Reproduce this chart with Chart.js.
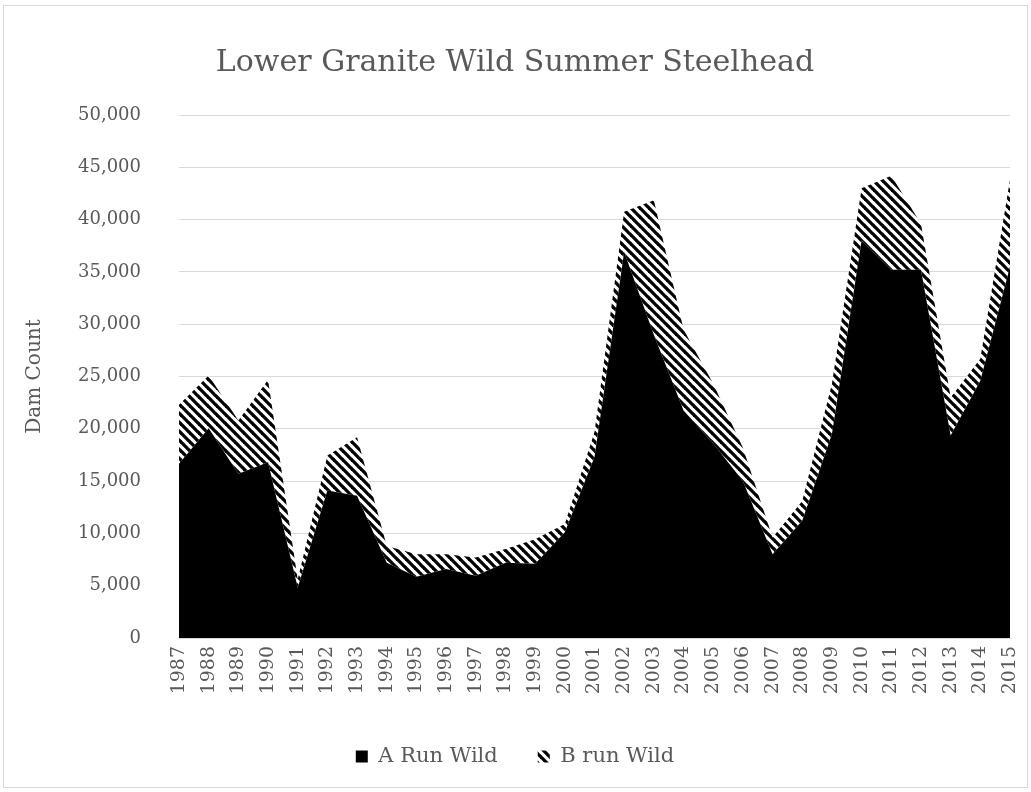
<!DOCTYPE html>
<html>
<head>
<meta charset="utf-8">
<script src="https://cdn.jsdelivr.net/npm/chart.js@4"></script>
<style>
  body { margin: 0; background: #fff; }
  #wrap { position: relative; width: 1031px; height: 792px; }
  #frame { position: absolute; left: 3px; top: 5px; width: 1023px; height: 781px; border: 1px solid #d9d9d9; pointer-events: none; }
</style>
</head>
<body>
<div id="wrap">
  <canvas id="steelheadChart" width="1031" height="792"></canvas>
  <div id="frame"></div>
</div>
<script>
// Dam counts
const years = ['1987', '1988', '1989', '1990', '1991', '1992', '1993', '1994', '1995', '1996',
    '1997', '1998', '1999', '2000', '2001', '2002', '2003', '2004', '2005', '2006',
    '2007', '2008', '2009', '2010', '2011', '2012', '2013', '2014', '2015'];
const aRunWild = [16650, 20050, 15700, 16800, 4800, 14100, 13600, 7200, 5850, 6600,
    5950, 7200, 7100, 10100, 17300, 36900, 29000, 21750, 18600, 15000,
    8000, 11200, 19500, 38000, 35200, 35200, 19350, 24600, 35500];
const bRunWild = [5650, 5050, 5100, 7900, 800, 3350, 5600, 1600, 2150, 1400,
    1750, 1300, 2350, 800, 2400, 3850, 12850, 7750, 5700, 3200,
    1600, 1900, 4800, 5000, 9000, 4400, 3650, 2100, 8300];

document.addEventListener('DOMContentLoaded', () => {
    const grey = '#595959';
    const serif = '"DejaVu Serif", serif';

    // diagonal black/white stripes for the B run series
    const tile = document.createElement('canvas');
    const s = 9;
    tile.width = s;
    tile.height = s;
    const tc = tile.getContext('2d');
    tc.fillStyle = '#fff';
    tc.fillRect(0, 0, s, s);
    tc.strokeStyle = '#000';
    tc.lineWidth = 3.3;
    for (let k = -1; k <= 1; k++) {
        tc.beginPath();
        tc.moveTo(k * s - 1, -1);
        tc.lineTo(k * s + s + 1, s + 1);
        tc.stroke();
    }
    const stripes = tc.createPattern(tile, 'repeat');

    const config = {
        type: 'line',
        data: {
            labels: years,
            datasets: [{
                label: 'A Run Wild',
                data: aRunWild,
                backgroundColor: '#000',
                borderWidth: 0,
                pointRadius: 0,
                fill: 'origin'
            }, {
                label: 'B run Wild',
                data: bRunWild,
                backgroundColor: stripes,
                borderWidth: 0,
                pointRadius: 0,
                fill: '-1'
            }]
        },
        options: {
            responsive: false,
            animation: false,
            layout: { padding: { left: 20, right: 21, top: 0, bottom: 15 } },
            plugins: {
                title: {
                    display: true,
                    text: 'Lower Granite Wild Summer Steelhead',
                    color: grey,
                    font: { family: serif, size: 30, weight: 'normal' },
                    padding: { top: 45, bottom: 34 }
                },
                legend: {
                    position: 'bottom',
                    labels: {
                        color: grey,
                        font: { family: serif, size: 21 },
                        boxWidth: 12,
                        boxHeight: 12,
                        padding: 40
                    }
                },
                tooltip: { enabled: false }
            },
            scales: {
                x: {
                    stacked: true,
                    grid: { display: false, drawTicks: false },
                    border: { display: true, color: '#d9d9d9' },
                    ticks: {
                        color: grey,
                        font: { family: serif, size: 19 },
                        minRotation: 90,
                        maxRotation: 90,
                        autoSkip: false,
                        padding: 8
                    },
                    afterFit: (scale) => {
                        scale.height = 68;
                        scale.paddingLeft = 0;
                        scale.paddingRight = 0;
                    }
                },
                y: {
                    stacked: true,
                    min: 0,
                    max: 50000,
                    grid: { color: '#d9d9d9', drawTicks: false },
                    border: { display: false },
                    ticks: {
                        stepSize: 5000,
                        color: grey,
                        font: { family: serif, size: 18 },
                        padding: 38,
                        callback: (v) => v.toLocaleString('en-US')
                    },
                    title: {
                        display: true,
                        text: 'Dam Count',
                        color: grey,
                        font: { family: serif, size: 20 },
                        padding: 3
                    },
                    afterFit: (scale) => { scale.width = 159; }
                }
            }
        }
    };

    new Chart(document.getElementById('steelheadChart'), config);
});
</script>
</body>
</html>
